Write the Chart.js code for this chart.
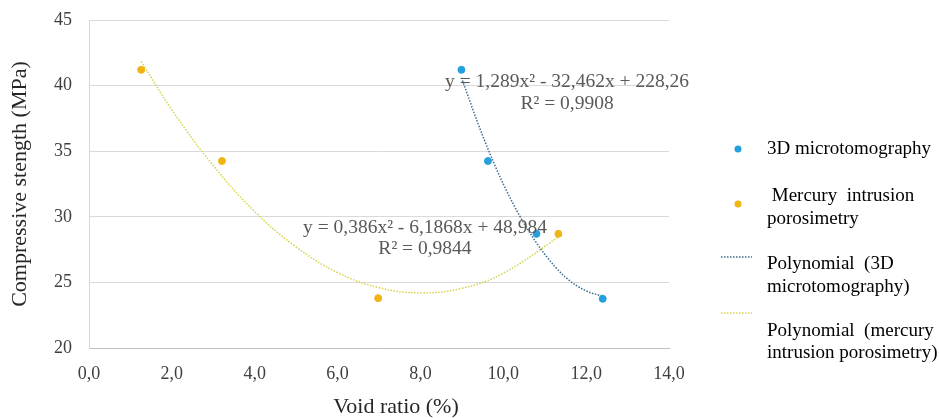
<!DOCTYPE html>
<html>
<head>
<meta charset="utf-8">
<script src="https://cdn.jsdelivr.net/npm/chart.js@4"></script>
<style>
  html, body { margin: 0; padding: 0; background: #fff; }
  #wrap { width: 939px; height: 418px; position: relative; }
</style>
</head>
<body>
<div id="wrap"><canvas id="chart"></canvas></div>
<script>
// measured points
const microX = [8.99, 9.63, 10.80, 12.40];
const microY = [41.2, 34.25, 28.7, 23.75];
const mercuryX = [1.26, 3.21, 6.98, 11.33];
const mercuryY = [41.2, 34.25, 23.8, 28.7];

// trend curves
const microTrendX = [8.99, 9.5, 10.0, 10.5, 11.0, 11.5, 12.0, 12.4];
const microTrendY = [40.6, 36.2, 32.5, 29.5, 27.15, 25.4, 24.35, 23.95];
const mercuryTrendX = [1.26, 2, 3, 4, 5, 6, 7, 8, 9, 10, 11.33];
const mercuryTrendY = [41.85, 38.15, 33.9, 30.4, 27.7, 25.75, 24.6, 24.2, 24.55, 25.7, 28.45];

const xTicks = [0, 2, 4, 6, 8, 10, 12, 14];
const yTicks = [20, 25, 30, 35, 40, 45];

const eqLabels = [
  { x: 11.54, y: 40.27, text: "y = 1,289x\u00B2 - 32,462x + 228,26" },
  { x: 11.54, y: 38.6, text: "R\u00B2 = 0,9908" },
  { x: 8.11, y: 29.15, text: "y = 0,386x\u00B2 - 6,1868x + 48,984" },
  { x: 8.11, y: 27.55, text: "R\u00B2 = 0,9844" }
];

const blue = "#24a0dc";
const gold = "#f0b414";
const blueTrend = "#3f6c8c";
const goldTrend = "#d6d44c";
const serif = "'Liberation Serif', 'Times New Roman', serif";

function pts(xs, ys) {
  return xs.map((x, i) => ({ x: x, y: ys[i] }));
}

// equation text on the plot + x axis title (sits a bit right of centre)
const eqPlugin = {
  id: "eqText",
  afterDatasetsDraw(chart) {
    const ctx = chart.ctx;
    const xs = chart.scales.x, ys = chart.scales.y;
    ctx.save();
    ctx.font = "19.5px " + serif;
    ctx.fillStyle = "#595959";
    ctx.textAlign = "center";
    ctx.textBaseline = "middle";
    eqLabels.forEach(l => {
      ctx.fillText(l.text, xs.getPixelForValue(l.x), ys.getPixelForValue(l.y));
    });
    ctx.font = "22px " + serif;
    ctx.fillStyle = "#262626";
    ctx.fillText("Void ratio (%)", 396, 407);
    ctx.restore();
  }
};

// legend on the right with wrapped lines
const legendPlugin = {
  id: "sideLegend",
  afterDraw(chart) {
    const ctx = chart.ctx;
    const tx = 767;
    ctx.save();
    ctx.font = "19px " + serif;
    ctx.fillStyle = "#000";
    ctx.textAlign = "left";
    ctx.textBaseline = "middle";

    ctx.fillStyle = blue;
    ctx.beginPath(); ctx.arc(738, 149, 3.5, 0, Math.PI * 2); ctx.fill();
    ctx.fillStyle = "#000";
    ctx.fillText("3D microtomography", tx, 149);

    ctx.fillStyle = gold;
    ctx.beginPath(); ctx.arc(738, 204, 3.5, 0, Math.PI * 2); ctx.fill();
    ctx.fillStyle = "#000";
    ctx.fillText(" Mercury  intrusion", tx, 196);
    ctx.fillText("porosimetry", tx, 219);

    ctx.lineWidth = 1.5;
    ctx.setLineDash([1.5, 1.5]);
    ctx.strokeStyle = blueTrend;
    ctx.beginPath(); ctx.moveTo(721, 257); ctx.lineTo(752, 257); ctx.stroke();
    ctx.fillText("Polynomial  (3D", tx, 264);
    ctx.fillText("microtomography)", tx, 287);

    ctx.strokeStyle = goldTrend;
    ctx.beginPath(); ctx.moveTo(721, 313); ctx.lineTo(752, 313); ctx.stroke();
    ctx.fillText("Polynomial  (mercury", tx, 331);
    ctx.fillText("intrusion porosimetry)", tx, 353);
    ctx.restore();
  }
};

new Chart(document.getElementById("chart"), {
  type: "scatter",
  data: {
    datasets: [
      {
        label: "3D microtomography",
        data: pts(microX, microY),
        backgroundColor: blue,
        borderColor: blue,
        pointRadius: 3.5,
        order: 1
      },
      {
        label: "Mercury intrusion porosimetry",
        data: pts(mercuryX, mercuryY),
        backgroundColor: gold,
        borderColor: gold,
        pointRadius: 3.5,
        order: 1
      },
      {
        label: "Polynomial (3D microtomography)",
        type: "line",
        data: pts(microTrendX, microTrendY),
        borderColor: blueTrend,
        borderWidth: 1.5,
        borderDash: [1.5, 1.5],
        pointRadius: 0,
        cubicInterpolationMode: "monotone",
        fill: false,
        order: 2
      },
      {
        label: "Polynomial (mercury intrusion porosimetry)",
        type: "line",
        data: pts(mercuryTrendX, mercuryTrendY),
        borderColor: goldTrend,
        borderWidth: 1.5,
        borderDash: [1.5, 1.5],
        pointRadius: 0,
        tension: 0.4,
        fill: false,
        order: 2
      }
    ]
  },
  options: {
    responsive: true,
    maintainAspectRatio: false,
    animation: false,
    layout: { padding: { top: 20, right: 270, left: 0, bottom: 0 } },
    plugins: {
      legend: { display: false },
      tooltip: { enabled: false }
    },
    scales: {
      x: {
        type: "linear",
        min: 0,
        max: 14,
        afterBuildTicks(scale) { scale.ticks = xTicks.map(v => ({ value: v })); },
        afterFit(scale) { scale.height = 70; scale.paddingLeft = 0; scale.paddingRight = 0; },
        grid: { display: false, drawTicks: false },
        border: { display: true, color: "#bfbfbf", width: 1 },
        ticks: {
          padding: 15,
          color: "#404040",
          font: { family: serif, size: 18 },
          maxRotation: 0,
          callback: v => v.toFixed(1).replace(".", ",")
        },
        title: { display: false }
      },
      y: {
        min: 20,
        max: 45,
        afterBuildTicks(scale) { scale.ticks = yTicks.map(v => ({ value: v })); },
        afterFit(scale) { scale.width = 89; scale.paddingTop = 0; scale.paddingBottom = 0; },
        grid: { color: "#d9d9d9", drawTicks: false },
        border: { display: true, color: "#d9d9d9", width: 1 },
        ticks: {
          padding: 17,
          color: "#404040",
          font: { family: serif, size: 18 }
        },
        title: {
          display: true,
          text: "Compressive stength (MPa)",
          color: "#262626",
          font: { family: serif, size: 22, lineHeight: 1 },
          padding: { top: 9, bottom: 0 }
        }
      }
    }
  },
  plugins: [eqPlugin, legendPlugin]
});
</script>
</body>
</html>
